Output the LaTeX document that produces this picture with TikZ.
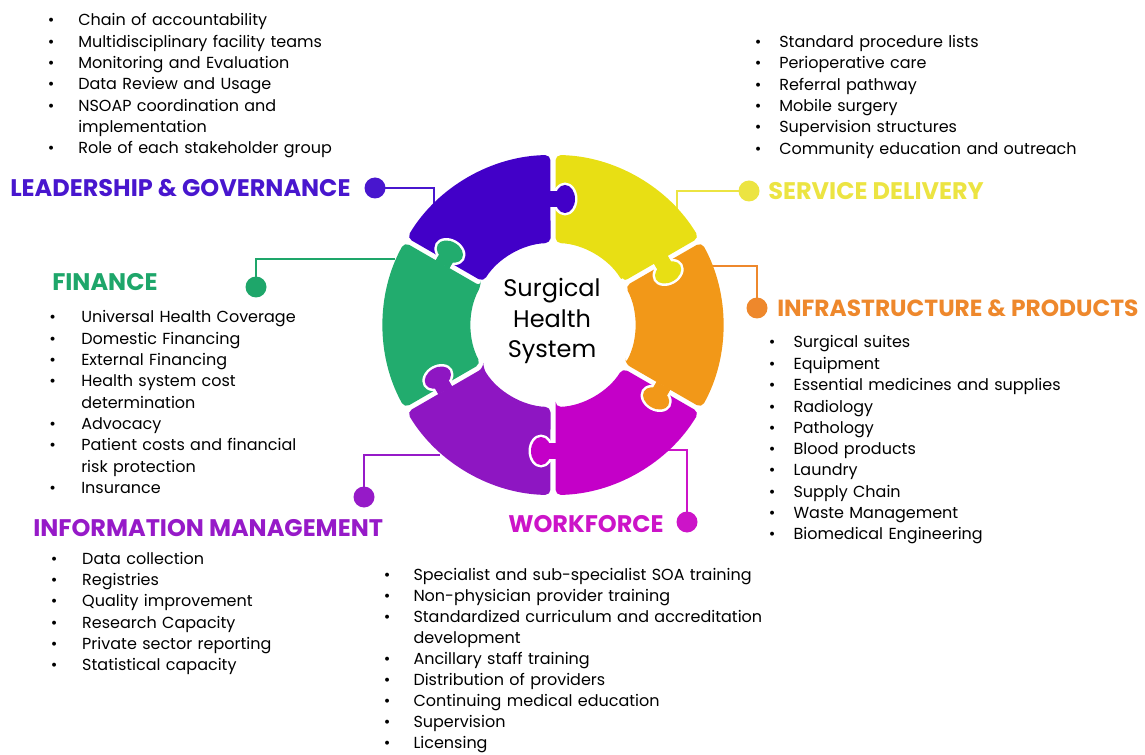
\documentclass[tikz,border=0pt]{standalone}
\usepackage{fontspec}
\setmainfont{Poppins}
\usetikzlibrary{positioning, calc}

\definecolor{pblue}{RGB}{66,0,200}
\definecolor{pyellow}{RGB}{232,223,20}
\definecolor{porange}{RGB}{242,152,24}
\definecolor{pmagenta}{RGB}{196,0,200}
\definecolor{ppurple}{RGB}{142,22,194}
\definecolor{pgreen}{RGB}{34,172,110}
\definecolor{tblue}{RGB}{72,22,206}
\definecolor{tyellow}{RGB}{236,228,66}
\definecolor{torange}{RGB}{238,136,44}
\definecolor{tmagenta}{RGB}{204,20,200}
\definecolor{tpurple}{RGB}{150,26,200}
\definecolor{tgreen}{RGB}{30,166,106}

\newlength{\bulgap}
\newcommand{\itm}[1]{\makebox[\bulgap][l]{\textbullet}#1}
\newcommand{\itmc}[1]{\hspace*{\bulgap}#1}

\begin{document}
\begin{tikzpicture}[x=0.75pt,y=0.75pt,
  head/.style={anchor=base west,inner sep=0pt,font=\fontsize{18}{20}\selectfont\bfseries},
  blist/.style={anchor=base west,inner sep=0pt,text width=300pt,align=left,font=\fontsize{12}{16}\selectfont},
  bulgap/.style={execute at begin node={\setlength{\bulgap}{#1}}},
  hubdot/.style={circle,fill=#1,inner sep=0pt,minimum size=15.75pt},
  conn/.style={line width=1.5pt}]

\useasboundingbox (0,0) rectangle (1145,-755);

% Ends of the connectors on the ring
\coordinate (leadend) at (434,-204);
\coordinate (servend) at (677,-213);
\coordinate (infraend) at (711,-266);
\coordinate (workend) at (668,-450);
\coordinate (infoend) at (440,-455);
\coordinate (finend) at (395,-259);

% Dots
\node[hubdot=tblue] (leaddot) at (375,-188) {};
\node[hubdot=tyellow] (servdot) at (749,-191) {};
\node[hubdot=torange] (infradot) at (757,-308) {};
\node[hubdot=tmagenta] (workdot) at (687,-522) {};
\node[hubdot=tpurple] (infodot) at (364,-497) {};
\node[hubdot=tgreen] (findot) at (256,-287) {};

% Connectors
\draw[conn,tblue] (leaddot.center) -| (leadend);
\draw[conn,tyellow] (servdot.center) -| (servend);
\draw[conn,torange] (infradot.center) |- (infraend);
\draw[conn,tmagenta] (workdot.center) |- (workend);
\draw[conn,tpurple] (infodot.center) |- (infoend);
\draw[conn,tgreen] (findot.center) |- (finend);

% Ring of pieces
\begin{scope}[shift={(553,-325)}]
  \foreach \a/\col in {90/pblue,30/pyellow,-30/porange,-90/pmagenta,-150/ppurple,150/pgreen}{
    \fill[\col,rounded corners=4pt] ({\a+1.75}:82) -- ({\a+0.85}:170)
      arc[start angle={\a+0.85},end angle={\a+59.15},radius=170]
      -- ({\a+58.25}:82)
      arc[start angle={\a+58.25},end angle={\a+1.75},radius=82] -- cycle;
  }
  % Knobs
  \foreach \a/\col in {90/pblue,30/pyellow,-30/porange,-90/pmagenta,-150/ppurple,150/pgreen}{
    \begin{scope}[shift={(\a:126)},rotate=\a]
      \fill[white] (0,-12) ellipse (16.5 and 12.5);
      \draw[white,line width=15.75pt] (0,0) -- (0,-12);
      \fill[\col] (0,-12) ellipse (14 and 10);
      \draw[\col,line width=12pt] (0,3) -- (0,-12);
    \end{scope}
  }
\end{scope}

\node[align=center,font=\fontsize{18}{23}\selectfont] (core) at (552,-321) {Surgical\\Health\\System};

% Headings
\node[head,text=tblue] (lead) at (10,-197) {LEADERSHIP \& GOVERNANCE};
\node[head,text=tyellow] (serv) at (768,-200) {SERVICE DELIVERY};
\node[head,text=tgreen] (fin) at (52,-291) {FINANCE};
\node[head,text=torange,font=\fontsize{17.5}{20}\selectfont\bfseries] (infra) at (777,-317) {INFRASTRUCTURE \& PRODUCTS};
\node[head,text=tpurple] (info) at (33,-536) {INFORMATION MANAGEMENT};
\node[head,text=tmagenta] (work) at (508,-532) {WORKFORCE};

% Lists
\node[blist,bulgap=22.9pt] (leadlist) at (47.5,-26) {\itm{Chain of accountability}\\
  \itm{Multidisciplinary facility teams}\\
  \itm{Monitoring and Evaluation}\\
  \itm{Data Review and Usage}\\
  \itm{NSOAP coordination and}\\
  \itmc{implementation}\\
  \itm{Role of each stakeholder group}};
\node[blist,bulgap=18.4pt] (servlist) at (754.5,-47.5) {\itm{Standard procedure lists}\\
  \itm{Perioperative care}\\
  \itm{Referral pathway}\\
  \itm{Mobile surgery}\\
  \itm{Supervision structures}\\
  \itm{Community education and outreach}};
\node[blist,bulgap=24pt] (finlist) at (49,-323) {\itm{Universal Health Coverage}\\
  \itm{Domestic Financing}\\
  \itm{External Financing}\\
  \itm{Health system cost}\\
  \itmc{determination}\\
  \itm{Advocacy}\\
  \itm{Patient costs and financial}\\
  \itmc{risk protection}\\
  \itm{Insurance}};
\node[blist,bulgap=18.6pt] (infralist) at (768.5,-348) {\itm{Surgical suites}\\
  \itm{Equipment}\\
  \itm{Essential medicines and supplies}\\
  \itm{Radiology}\\
  \itm{Pathology}\\
  \itm{Blood products}\\
  \itm{Laundry}\\
  \itm{Supply Chain}\\
  \itm{Waste Management}\\
  \itm{Biomedical Engineering}};
\node[blist,bulgap=23.6pt] (infolist) at (50.5,-564) {\itm{Data collection}\\
  \itm{Registries}\\
  \itm{Quality improvement}\\
  \itm{Research Capacity}\\
  \itm{Private sector reporting}\\
  \itm{Statistical capacity}};
\node[blist,bulgap=22.3pt,font=\fontsize{12}{15.8}\selectfont] (worklist) at (383.5,-580) {\itm{Specialist and sub-specialist SOA training}\\
  \itm{Non-physician provider training}\\
  \itm{Standardized curriculum and accreditation}\\
  \itmc{development}\\
  \itm{Ancillary staff training}\\
  \itm{Distribution of providers}\\
  \itm{Continuing medical education}\\
  \itm{Supervision}\\
  \itm{Licensing}};

\end{tikzpicture}
\end{document}
